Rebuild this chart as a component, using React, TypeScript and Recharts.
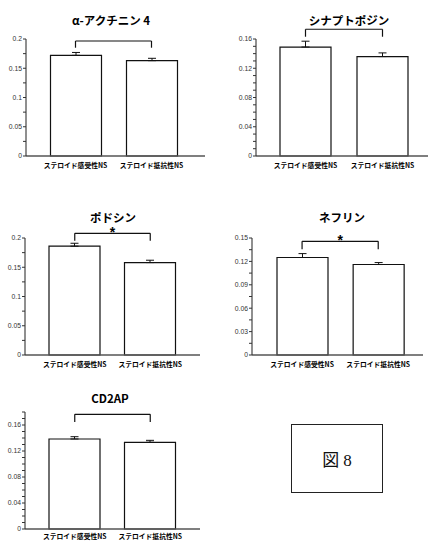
import { BarChart, Bar, XAxis, YAxis, ErrorBar, ReferenceLine } from 'recharts'

// 5つのタンパク質、2群（感受性 / 抵抗性）
const categories = ['ステロイド感受性NS', 'ステロイド抵抗性NS']
const titles = ['α-アクチニン 4', 'シナプトポジン', 'ポドシン', 'ネフリン', 'CD2AP']

const sensitive = [0.172, 0.149, 0.186, 0.125, 0.1385]
const resistant = [0.163, 0.136, 0.158, 0.116, 0.1334]
const errSensitive = [0.005, 0.008, 0.005, 0.005, 0.0035]
const errResistant = [0.004, 0.005, 0.004, 0.0025, 0.003]

// 有意差の括弧（上辺と脚の下端）
const bracketTop = [0.1966, 0.1733, 0.208, 0.1458, 0.1765]
const bracketEnd = [0.1851, 0.1631, 0.1954, 0.1355, 0.1646]
const significant = [false, false, true, true, false]

const yMax = [0.2, 0.16, 0.2, 0.15, 0.18]
const majorTicks = [
  [0, 0.05, 0.1, 0.15, 0.2],
  [0, 0.04, 0.08, 0.12, 0.16],
  [0, 0.05, 0.1, 0.15, 0.2],
  [0, 0.03, 0.06, 0.09, 0.12, 0.15],
  [0, 0.04, 0.08, 0.12, 0.16],
]
const minorTicks = [
  [0.025, 0.075, 0.125, 0.175],
  [0.01, 0.02, 0.03, 0.05, 0.06, 0.07, 0.09, 0.1, 0.11, 0.13, 0.14, 0.15],
  [0.025, 0.075, 0.125, 0.175],
  [0.015, 0.045, 0.075, 0.105, 0.135],
  [0.01, 0.02, 0.03, 0.05, 0.06, 0.07, 0.09, 0.1, 0.11, 0.13, 0.14, 0.15, 0.17, 0.18],
]

// パネル配置
const layout = [
  { left: 0, top: 0, width: 215, height: 176, mTop: 39, mLeft: 4, mRight: 10, padL: 11.5, padR: 15.5, titleX: 111, titleY: 20, tm: 3 },
  { left: 215, top: 0, width: 215, height: 176, mTop: 39, mLeft: 19, mRight: 2, padL: 11, padR: 7, titleX: 134, titleY: 20, tm: 3 },
  { left: 0, top: 175, width: 215, height: 200, mTop: 63, mLeft: 3, mRight: 15, padL: 12, padR: 12, titleX: 113, titleY: 42, tm: 3 },
  { left: 215, top: 175, width: 215, height: 200, mTop: 63, mLeft: 15, mRight: 7, padL: 12, padR: 6.7, titleX: 127, titleY: 42, tm: 3 },
  { left: 0, top: 365, width: 215, height: 176, mTop: 47, mLeft: 3, mRight: 15, padL: 12, padR: 12, titleX: 110, titleY: 33, tm: 1 },
]

const font = '"Liberation Sans", Arial, "Noto Sans CJK JP", sans-serif'
const jpFont = '"Noto Sans CJK JP", sans-serif'

function Panel({ i }: { i: number }) {
  const l = layout[i]
  const data = categories.map((name, k) => ({
    name,
    value: k === 0 ? sensitive[i] : resistant[i],
    err: [0, k === 0 ? errSensitive[i] : errResistant[i]],
  }))
  const ticks = [...majorTicks[i], ...minorTicks[i]].sort((a, b) => a - b)
  const stroke = '#111'
  const xAxisH = i === 4 ? 12 : 20

  return (
    <div style={{ position: 'absolute', left: l.left, top: l.top, width: l.width, height: l.height }}>
      <div
        style={{
          position: 'absolute',
          left: l.titleX - 60,
          width: 120,
          top: l.titleY - 9,
          textAlign: 'center',
          fontFamily: jpFont,
          fontWeight: 700,
          fontSize: 11.5,
          lineHeight: '18px',
          color: '#000',
        }}
      >
        {titles[i]}
      </div>
      <BarChart
        width={l.width}
        height={l.height}
        data={data}
        margin={{ top: l.mTop, right: l.mRight, left: l.mLeft, bottom: 0 }}
        barSize={51}
      >
        <XAxis
          dataKey="name"
          height={xAxisH}
          padding={{ left: l.padL, right: l.padR }}
          tickLine={false}
          tickSize={4}
          tickMargin={l.tm}
          axisLine={{ stroke: '#555', strokeWidth: 1.3 }}
          tick={{ fill: '#000', fontSize: 6.8, fontWeight: 700, fontFamily: jpFont }}
          interval={0}
        />
        <YAxis
          type="number"
          width={22}
          domain={[0, yMax[i]]}
          ticks={ticks}
          interval={0}
          tickSize={3}
          tickMargin={1}
          tickFormatter={(v: number) => (majorTicks[i].includes(v) ? String(v) : '')}
          tick={{ fill: '#333', fontSize: 6.8, fontFamily: font }}
          tickLine={{ stroke: '#333' }}
          axisLine={{ stroke: '#333', strokeWidth: 1.1 }}
        />
        <Bar dataKey="value" fill="#fff" stroke={stroke} strokeWidth={1.2} isAnimationActive={false}>
          <ErrorBar dataKey="err" width={4} stroke={stroke} strokeWidth={1} direction="y" />
        </Bar>
        <ReferenceLine
          segment={[
            { x: categories[0], y: bracketTop[i] },
            { x: categories[1], y: bracketTop[i] },
          ]}
          stroke={stroke}
          strokeWidth={1.2}
          ifOverflow="visible"
          label={
            significant[i]
              ? { value: '*', position: 'center', dy: -1, fill: '#000', fontSize: 14, fontWeight: 700, fontFamily: font }
              : undefined
          }
        />
        <ReferenceLine
          segment={[
            { x: categories[0], y: bracketTop[i] },
            { x: categories[0], y: bracketEnd[i] },
          ]}
          stroke={stroke}
          strokeWidth={1.2}
          ifOverflow="visible"
        />
        <ReferenceLine
          segment={[
            { x: categories[1], y: bracketTop[i] },
            { x: categories[1], y: bracketEnd[i] },
          ]}
          stroke={stroke}
          strokeWidth={1.2}
          ifOverflow="visible"
        />
      </BarChart>
    </div>
  )
}

export default function App() {
  return (
    <div style={{ position: 'absolute', left: 0, top: 0, width: 430, height: 541, background: '#fff', overflow: 'hidden' }}>
      {titles.map((_, i) => (
        <Panel key={i} i={i} />
      ))}
      <div
        style={{
          position: 'absolute',
          left: 291,
          top: 424,
          width: 90,
          height: 67,
          border: '1.3px solid #222',
          display: 'flex',
          alignItems: 'center',
          justifyContent: 'center',
          fontFamily: '"Liberation Serif", "Noto Sans CJK JP", serif',
          fontSize: 17,
          color: '#111',
        }}
      >
        図 8
      </div>
    </div>
  )
}
